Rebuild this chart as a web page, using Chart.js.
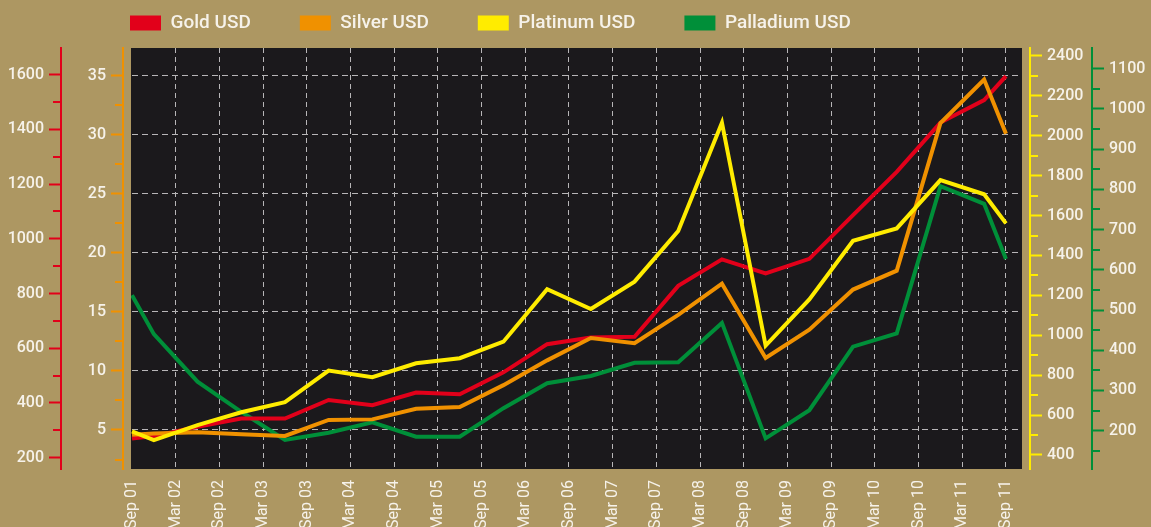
<!DOCTYPE html>
<html>
<head>
<meta charset="utf-8">
<script src="https://cdn.jsdelivr.net/npm/chart.js@4.4.1/dist/chart.umd.min.js"></script>
<style>
html,body{margin:0;padding:0;background:#ad9762;overflow:hidden}
#wrap{width:1151px;height:527px;position:relative}
</style>
</head>
<body>
<div id="wrap"><canvas id="c"></canvas></div>
<script>
// ---- data ----
const pointDates = ['2001-09','2001-12','2002-06','2002-12','2003-06','2003-12','2004-06','2004-12',
  '2005-06','2005-12','2006-06','2006-12','2007-06','2007-12','2008-06','2008-12','2009-06','2009-12',
  '2010-06','2010-12','2011-06','2011-09'];
const gold = [270, 279, 313, 343, 343, 411, 392, 438, 432, 512, 615, 639, 642, 828, 925, 874, 927, 1087, 1245, 1425, 1507, 1595];
const silver = [4.6, 4.7, 4.8, 4.64, 4.5, 5.85, 5.9, 6.8, 6.95, 8.8, 10.9, 12.8, 12.35, 14.75, 17.4, 11.1, 13.5, 16.9, 18.5, 31.0, 34.7, 30.1];
const platinum = [518, 475, 550, 614, 665, 823, 790, 860, 885, 968, 1231, 1132, 1269, 1523, 2066, 948, 1180, 1474, 1536, 1778, 1707, 1561];
const palladium = [537, 440, 322, 247, 177, 195, 221, 185, 185, 256, 318, 336, 369, 370, 468, 181, 251, 409, 442, 808, 764, 627];

const seriesNames = ['Gold USD', 'Silver USD', 'Platinum USD', 'Palladium USD'];

const xTickLabels = ['Sep 01','Mar 02','Sep 02','Mar 03','Sep 03','Mar 04','Sep 04','Mar 05','Sep 05','Mar 06',
  'Sep 06','Mar 07','Sep 07','Mar 08','Sep 08','Mar 09','Sep 09','Mar 10','Sep 10','Mar 11','Sep 11'];
const goldTicks = [200, 400, 600, 800, 1000, 1200, 1400, 1600];
const goldMinorTicks = [300, 500, 700, 900, 1100, 1300, 1500];
const silverTicks = [5, 10, 15, 20, 25, 30, 35];
const silverMinorTicks = [2.5, 7.5, 12.5, 17.5, 22.5, 27.5, 32.5];
const platinumTicks = [400, 600, 800, 1000, 1200, 1400, 1600, 1800, 2000, 2200, 2400];
const platinumMinorTicks = [500, 700, 900, 1100, 1300, 1500, 1700, 1900, 2100, 2300];
const palladiumTicks = [200, 300, 400, 500, 600, 700, 800, 900, 1000, 1100];
const palladiumMinorTicks = [150, 250, 350, 450, 550, 650, 750, 850, 950, 1050];

// ---- helpers ----
const MONTHS = {Jan:1,Feb:2,Mar:3,Apr:4,May:5,Jun:6,Jul:7,Aug:8,Sep:9,Oct:10,Nov:11,Dec:12};
function monthsFromDate(d){ const [y,m] = d.split('-').map(Number); return (y - 2001) * 12 + (m - 9); }
function monthsFromLabel(l){ const [mn, yy] = l.split(' '); return (2000 + Number(yy) - 2001) * 12 + (MONTHS[mn] - 9); }
const xTickValues = xTickLabels.map(monthsFromLabel);
function toPoints(vals){ return pointDates.map((d, i) => ({x: monthsFromDate(d), y: vals[i]})); }

const RED = '#e2001a', ORANGE = '#f09100', YELLOW = '#ffec00', GREEN = '#008f39';
const CREAM = '#f6f2ea', GRID = '#b8b6b8', DARK = '#1b191c', TAN = '#ad9762';
const tickFont = {family: 'Roboto, "DejaVu Sans", sans-serif', size: 16, weight: '500'};
const xFont = {family: 'Roboto, "DejaVu Sans", sans-serif', size: 16, weight: 'normal'};

function yAxis(opts){
  return {
    type: 'linear', position: opts.position, weight: opts.weight,
    min: opts.min, max: opts.max,
    afterBuildTicks: s => { s.ticks = opts.ticks.map(v => ({value: v})); },
    afterFit: s => { s.width = opts.width; },
    ticks: {color: CREAM, font: tickFont, padding: opts.padding, callback: v => String(v)},
    grid: {display: true, drawOnChartArea: !!opts.chartGrid, color: GRID, lineWidth: 1,
           drawTicks: true, tickLength: 12, tickWidth: 2, tickColor: opts.color},
    border: {display: true, color: opts.color, width: 2, dash: opts.chartGrid ? [6, 4] : []}
  };
}
function gapAxis(position){
  return {type: 'linear', position, weight: 0, display: true,
    ticks: {display: false}, grid: {display: false}, border: {display: false},
    afterFit: s => { s.width = 8; }};
}

const bgPlugin = {
  id: 'bg',
  beforeDraw(chart){
    const {ctx, chartArea: a} = chart;
    ctx.save();
    ctx.fillStyle = TAN; ctx.fillRect(0, 0, chart.width, chart.height);
    ctx.fillStyle = DARK; ctx.fillRect(a.left, a.top, a.right - a.left, a.bottom - a.top);
    ctx.restore();
  }
};
const minorTickPlugin = {
  id: 'minorTicks',
  afterDraw(chart){
    const ctx = chart.ctx;
    const defs = [['yGold', goldMinorTicks, RED], ['ySilver', silverMinorTicks, ORANGE],
                  ['yPlatinum', platinumMinorTicks, YELLOW], ['yPalladium', palladiumMinorTicks, GREEN]];
    for (const [id, vals, color] of defs){
      const s = chart.scales[id];
      const left = s.position === 'left';
      const bx = Math.round(left ? s.right : s.left);
      ctx.save(); ctx.strokeStyle = color; ctx.lineWidth = 2;
      for (const v of vals){
        if (v <= s.min || v >= s.max) continue;
        const y = Math.round(s.getPixelForValue(v));
        ctx.beginPath(); ctx.moveTo(bx, y); ctx.lineTo(left ? bx - 8 : bx + 8, y); ctx.stroke();
      }
      ctx.restore();
    }
  }
};
const LEGEND_PAD = 49;
const legendPlace = {
  id: 'legendPlace',
  beforeLayout(chart){
    const lg = chart.legend;
    if (lg && !lg.__patched){
      const f = lg.fit;
      lg.fit = function(){ f.call(this); this.height = 48; };
      lg.__patched = true;
    }
  },
  afterLayout(chart){
    const lg = chart.legend;
    if (lg){ lg.left = 130 - LEGEND_PAD; lg.top = 13.5 - LEGEND_PAD; }
  }
};

function ds(label, vals, color, axis, order){
  return {label, data: toPoints(vals), borderColor: color, backgroundColor: color, borderWidth: 4,
          pointRadius: 0, tension: 0, yAxisID: axis, order, borderJoinStyle: 'miter'};
}

new Chart(document.getElementById('c'), {
  type: 'line',
  data: {
    datasets: [
      ds(seriesNames[0], gold, RED, 'yGold', 2),
      ds(seriesNames[1], silver, ORANGE, 'ySilver', 1),
      ds(seriesNames[2], platinum, YELLOW, 'yPlatinum', 0),
      ds(seriesNames[3], palladium, GREEN, 'yPalladium', 3)
    ]
  },
  options: {
    responsive: true, maintainAspectRatio: false, animation: false,
    devicePixelRatio: 1,
    layout: {padding: 0},
    plugins: {
      tooltip: {enabled: false},
      legend: {
        display: true, position: 'top', align: 'start',
        labels: {
          boxWidth: 31, boxHeight: 15, padding: LEGEND_PAD, color: CREAM,
          font: {family: 'Roboto, "DejaVu Sans", sans-serif', size: 19, weight: '500'},
          sort: (a, b) => a.datasetIndex - b.datasetIndex,
          generateLabels(chart){
            const items = Chart.defaults.plugins.legend.labels.generateLabels(chart);
            items.forEach(it => { it.lineWidth = 0; it.fillStyle = it.strokeStyle; });
            return items;
          }
        }
      }
    },
    scales: {
      x: {
        type: 'linear', min: -0.137, max: 122.2,
        afterBuildTicks: s => { s.ticks = xTickValues.map(v => ({value: v})); },
        afterFit: s => { s.height = 58; },
        ticks: {color: CREAM, font: xFont, padding: 11, autoSkip: false, minRotation: 90, maxRotation: 90,
                callback: v => xTickLabels[xTickValues.indexOf(v)]},
        grid: {display: true, drawOnChartArea: true, drawTicks: false, lineWidth: 1,
               color: c => (c.tick && c.tick.value === 0) ? 'rgba(0,0,0,0)' : GRID},
        border: {display: false, dash: [5, 4]}
      },
      yGapL: gapAxis('left'),
      ySilver: yAxis({position: 'left', weight: 1, min: 1.695, max: 37.37, ticks: silverTicks, width: 62, padding: 5, color: ORANGE, chartGrid: true}),
      yGold: yAxis({position: 'left', weight: 2, min: 158.7, max: 1697.6, ticks: goldTicks, width: 61, padding: 5, color: RED}),
      yGapR: gapAxis('right'),
      yPlatinum: yAxis({position: 'right', weight: 1, min: 329.8, max: 2440.1, ticks: platinumTicks, width: 62, padding: 5, color: YELLOW}),
      yPalladium: yAxis({position: 'right', weight: 2, min: 104.8, max: 1151.5, ticks: palladiumTicks, width: 59, padding: 5, color: GREEN})
    }
  },
  plugins: [bgPlugin, minorTickPlugin, legendPlace]
});
</script>
</body>
</html>
